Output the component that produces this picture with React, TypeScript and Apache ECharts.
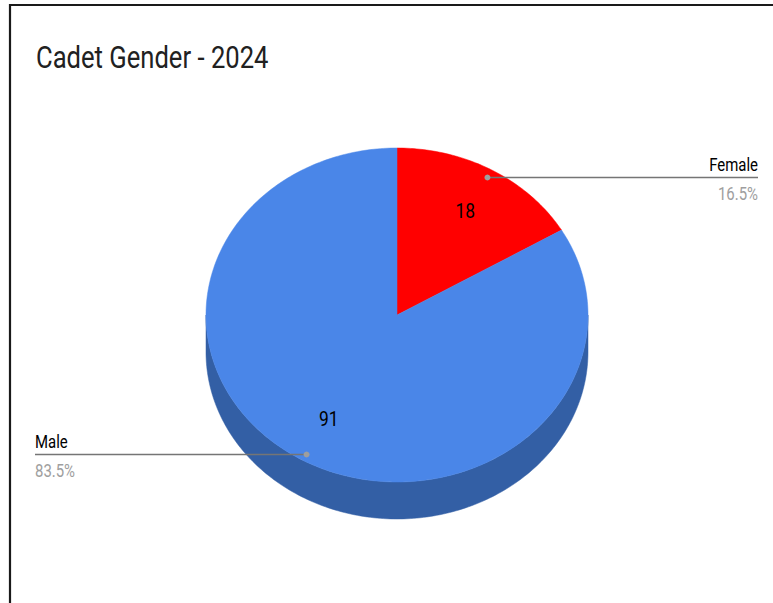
import React, { useEffect, useRef } from 'react';
import * as echarts from 'echarts';

const TITLE = 'Cadet Gender - 2024';
const categories = ['Female', 'Male'];
const values = [18, 91];
const topColors = ['#ff0000', '#4a86e8'];
const sideColors = ['#b00000', '#335fa5'];

export default function App() {
  const ref = useRef<HTMLDivElement>(null);
  useEffect(() => {
    const chart = echarts.init(ref.current as HTMLDivElement, null, { renderer: 'svg' });
    const total = values.reduce((a, b) => a + b, 0);
    const cx = 397, cy = 315, rx = 191, ry = 167, depth = 37;
    const SX = 0.83;
    const FONT = 'Roboto';
    const TAU = Math.PI * 2;
    const starts: number[] = [];
    let acc = 0;
    values.forEach((v) => { starts.push((acc / total) * TAU); acc += v; });
    const pt = (a: number, r = 1, dy = 0) => [cx + rx * r * Math.sin(a), cy - ry * r * Math.cos(a) + dy];
    const arcPts = (a0: number, a1: number, r = 1, dy = 0) => {
      const n = Math.max(2, Math.ceil((a1 - a0) / (Math.PI / 180)));
      const out: number[][] = [];
      for (let i = 0; i <= n; i++) out.push(pt(a0 + ((a1 - a0) * i) / n, r, dy));
      return out;
    };
    const data = values.map((v, i) => ({ name: categories[i], value: v }));

    const sideSeries = {
      type: 'custom',
      coordinateSystem: 'none',
      silent: true,
      data,
      renderItem: (params: any, api: any) => {
        const i = params.dataIndex;
        const v = api.value(0);
        const a0 = starts[i];
        const a1 = a0 + (v / total) * TAU;
        const s0 = Math.max(a0, Math.PI / 2);
        const s1 = Math.min(a1, (3 * Math.PI) / 2);
        const children: any[] = [];
        if (s1 > s0) {
          const points = arcPts(s0, s1).concat(arcPts(s0, s1, 1, depth).reverse());
          children.push({ type: 'polygon', shape: { points }, style: { fill: sideColors[i], stroke: sideColors[i], lineWidth: 0.5 } });
        }
        return { type: 'group', children };
      },
    };

    const topSeries = {
      type: 'custom',
      coordinateSystem: 'none',
      silent: true,
      data,
      renderItem: (params: any, api: any) => {
        const i = params.dataIndex;
        const v = api.value(0);
        const a0 = starts[i];
        const a1 = a0 + (v / total) * TAU;
        const points = [[cx, cy]].concat(arcPts(a0, a1));
        return { type: 'polygon', shape: { points }, style: { fill: topColors[i], stroke: topColors[i], lineWidth: 0.5 } };
      },
    };

    const labelSeries = {
      type: 'custom',
      coordinateSystem: 'none',
      silent: true,
      data,
      renderItem: (params: any, api: any) => {
        const i = params.dataIndex;
        const v = api.value(0);
        const a0 = starts[i];
        const a1 = a0 + (v / total) * TAU;
        const mid = (a0 + a1) / 2;
        const lp = pt(mid, 0.72);
        const dp = pt(mid, 0.955);
        const right = mid < Math.PI;
        const endX = right ? 758 : 35;
        const ly = dp[1] + 1;
        const pct = ((v / total) * 100).toFixed(1) + '%';
        return {
          type: 'group',
          children: [
            { type: 'text', x: lp[0], y: lp[1], scaleX: SX, style: { text: String(v), fill: '#000', fontSize: 21, fontFamily: FONT, align: 'center', verticalAlign: 'middle' } },
            { type: 'line', shape: { x1: dp[0], y1: ly, x2: endX, y2: ly }, style: { stroke: '#757575', lineWidth: 1.5 } },
            { type: 'circle', shape: { cx: dp[0], cy: ly, r: 3 }, style: { fill: '#9e9e9e' } },
            { type: 'text', x: endX, y: ly - 3, scaleX: SX, style: { text: categories[i], fill: '#000', fontSize: 18, fontFamily: FONT, align: right ? 'right' : 'left', verticalAlign: 'bottom' } },
            { type: 'text', x: endX, y: ly + 8, scaleX: SX, style: { text: pct, fill: '#9e9e9e', fontSize: 18, fontFamily: FONT, align: right ? 'right' : 'left', verticalAlign: 'top' } },
          ],
        };
      },
    };

    chart.setOption({
      animation: false,
      backgroundColor: '#ffffff',
      graphic: [
        { type: 'line', shape: { x1: 9, y1: 5, x2: 773, y2: 5 }, style: { stroke: '#1a1a1a', lineWidth: 2.2 } },
        { type: 'line', shape: { x1: 10, y1: 4, x2: 10, y2: 603 }, style: { stroke: '#1a1a1a', lineWidth: 2.2 } },
        { type: 'text', x: 36, y: 57, scaleX: 0.8, style: { text: TITLE, fill: '#212121', fontSize: 32, fontFamily: FONT, verticalAlign: 'middle' } },
      ],
      series: [sideSeries, topSeries, labelSeries],
    } as any);
    return () => chart.dispose();
  }, []);
  return <div ref={ref} style={{ position: 'absolute', left: 0, top: 0, width: 773, height: 603 }} />;
}
